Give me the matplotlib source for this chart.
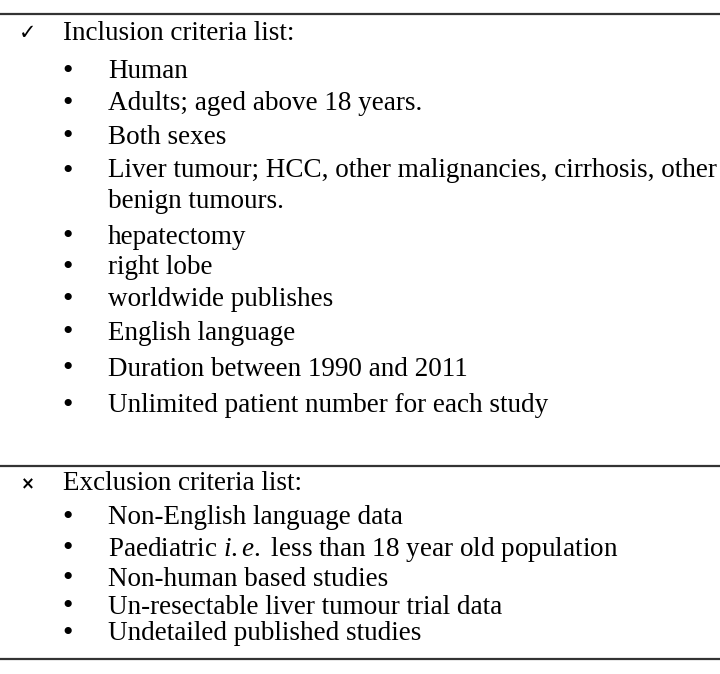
import matplotlib.pyplot as plt

# table content
inclusion_header = "Inclusion criteria list:"
inclusion_items = [
    "Human",
    "Adults; aged above 18 years.",
    "Both sexes",
    "Liver tumour; HCC, other malignancies, cirrhosis, other\nbenign tumours.",
    "hepatectomy",
    "right lobe",
    "worldwide publishes",
    "English language",
    "Duration between 1990 and 2011",
    "Unlimited patient number for each study",
]
inclusion_y = [72, 104, 137, 172, 237, 268, 300, 333, 369, 406]

exclusion_header = "Exclusion criteria list:"
exclusion_items = [
    "Non-English language data",
    r"Paediatric $\mathit{i.e.}$ less than 18 year old population",
    "Non-human based studies",
    "Un-resectable liver tumour trial data",
    "Undetailed published studies",
]
exclusion_y = [520, 556, 564, 600, 633]
exclusion_y = [518, 549, 579, 607, 634]

plt.rcParams["font.family"] = "Liberation Serif"
plt.rcParams["mathtext.fontset"] = "custom"
plt.rcParams["mathtext.rm"] = "Liberation Serif"
plt.rcParams["mathtext.it"] = "Liberation Serif:italic"

fig = plt.figure(figsize=(7.2, 6.74), dpi=100)
ax = fig.add_axes([0, 0, 1, 1])
ax.set_xlim(0, 720)
ax.set_ylim(674, 0)
ax.axis("off")

fs = 19.5
for y in (14, 466, 659):
    ax.plot([0, 720], [y, y], color="#333333", lw=1.6)

ax.text(19, 33, "\u2713", fontsize=15, va="center", family="DejaVu Sans")
ax.text(63, 33, inclusion_header, fontsize=fs, va="center")
for text, y in zip(inclusion_items, inclusion_y):
    ax.text(62, y, "\u2022", fontsize=fs + 2, va="center")
    if "\n" in text:
        ax.text(108, y - 14, text, fontsize=fs, va="top", linespacing=1.3)
    else:
        ax.text(108, y, text, fontsize=fs, va="center")

ax.text(21, 484, "\u00d7", fontsize=12, va="center", family="DejaVu Sans", weight="bold")
ax.text(63, 484, exclusion_header, fontsize=fs, va="center")
for text, y in zip(exclusion_items, exclusion_y):
    ax.text(62, y, "\u2022", fontsize=fs + 2, va="center")
    ax.text(108, y, text, fontsize=fs, va="center")

fig.savefig("out.png", dpi=100)
